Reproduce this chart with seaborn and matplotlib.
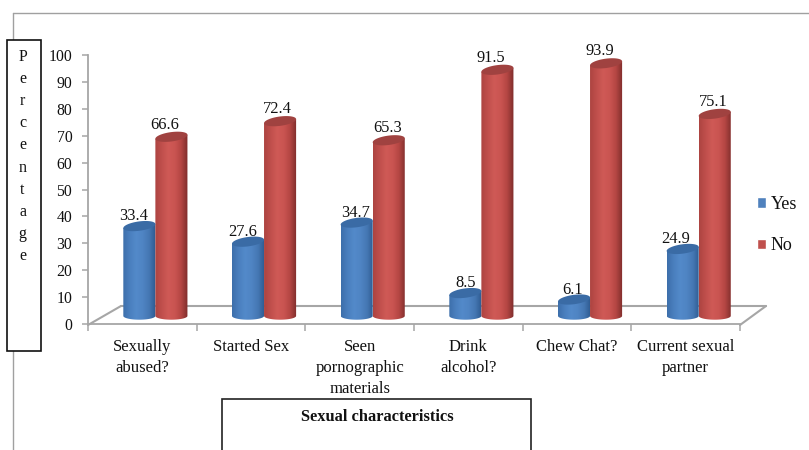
import numpy as np
import pandas as pd
import matplotlib
matplotlib.use("Agg")
import matplotlib.pyplot as plt
from matplotlib.colors import LinearSegmentedColormap
from matplotlib.patches import Polygon, Rectangle
from matplotlib.lines import Line2D
import seaborn as sns

categories = ["Sexually\nabused?", "Started Sex", "Seen\npornographic\nmaterials",
              "Drink\nalcohol?", "Chew Chat?", "Current sexual\npartner"]
yes_values = [33.4, 27.6, 34.7, 8.5, 6.1, 24.9]
no_values = [66.6, 72.4, 65.3, 91.5, 93.9, 75.1]
y_ticks = list(range(0, 101, 10))
series_names = ["Yes", "No"]
ylabel_letters = list("Percentage")
xlabel_text = "Sexual characteristics"

W, H = 809, 450
sns.set_theme(style="white")
plt.rcParams["font.family"] = ["Liberation Serif", "DejaVu Serif"]
plt.rcParams["text.color"] = "#111111"

fig = plt.figure(figsize=(W / 100, H / 100), dpi=100)
L, R, T, B = 88, 740, 55, 324
ax = fig.add_axes([L / W, 1 - B / H, (R - L) / W, (B - T) / H])

df = pd.DataFrame({
    "cat": categories * 2,
    "val": yes_values + no_values,
    "ser": [series_names[0]] * 6 + [series_names[1]] * 6,
})
palette = {"Yes": "#4f81bd", "No": "#c0504d"}
sns.barplot(data=df, x="cat", y="val", hue="ser", palette=palette, width=0.59,
            saturation=1, ax=ax, legend=True, zorder=2)

SHIFT = 0.12
ax.set_xlim(-0.5 - SHIFT, 5.5 - SHIFT)
ax.set_ylim(0, 100)
px_x = (R - L) / 6
px_y = (B - T) / 100
BASE = 3.0  # 3-D floor offset of the cylinder base centre

grads = {
    "Yes": ["#3d6fab", "#4a7fbe", "#538aca", "#4f84c3", "#4577b3", "#2d5a90"],
    "No": ["#ad4441", "#c04f4c", "#cf5a56", "#ca5451", "#b44643", "#7e2d2b"],
}
tops = {"Yes": "#3a6ba5", "No": "#a04240"}
for cont, name in zip(ax.containers, series_names):
    cmap = LinearSegmentedColormap.from_list(name, grads[name])
    for p in cont:
        x0, w, h = p.get_x(), p.get_width(), p.get_height()
        p.set_y(BASE)
        p.set_visible(False)
        xc, a = x0 + w / 2, w / 2
        yt = BASE + h
        ry = 4.7 / px_y
        tilt = 2.0 / px_y
        t = np.linspace(0, 2 * np.pi, 80)
        tb = np.linspace(np.pi, 2 * np.pi, 40)
        tt = np.linspace(0, np.pi, 40)
        bx = xc + a * np.cos(tb)
        by = BASE + 0.8 * ry * np.sin(tb)
        ux = xc + a * np.cos(tt)
        uy = yt + tilt * np.cos(tt)
        poly = Polygon(np.c_[np.r_[bx, ux], np.r_[by, uy]], closed=True,
                       transform=ax.transData, fc="none", ec="none")
        ax.add_patch(poly)
        im = ax.imshow(np.linspace(0, 1, 64).reshape(1, -1), cmap=cmap, aspect="auto",
                       extent=[x0, x0 + w, BASE - ry, yt + ry + tilt], zorder=3,
                       interpolation="bilinear")
        im.set_clip_path(poly)
        ex = xc + a * np.cos(t)
        ey = yt + ry * np.sin(t) + tilt * np.cos(t)
        ax.add_patch(Polygon(np.c_[ex, ey], closed=True, fc=tops[name], ec="none", zorder=4))
ax.set_xlim(-0.5 - SHIFT, 5.5 - SHIFT)
ax.set_ylim(0, 100)

# value labels
nudges = [-5.5, -7, -5, -3, -1, -1, 0, -7, -1, -6, -7, -1]
for cont, name, vals, nd, dy in zip(ax.containers, series_names, (yes_values, no_values),
                                    (nudges[0::2], nudges[1::2]), (1.4, 3)):
    for p, v, n in zip(cont, vals, nd):
        ax.annotate(f"{v:.1f}", (p.get_x() + p.get_width() / 2, BASE + v), xytext=(n * 0.72, dy),
                    textcoords="offset points", ha="center", va="bottom",
                    fontsize=11.8, color="#111111", zorder=6, annotation_clip=False)

# axes
for s in ["top", "right"]:
    ax.spines[s].set_visible(False)
for s in ["left", "bottom"]:
    ax.spines[s].set_color("#a6a6a6")
    ax.spines[s].set_linewidth(1.3)
ax.set_yticks(y_ticks)
ax.set_yticklabels([str(v) for v in y_ticks], fontsize=11.3)
ax.tick_params(axis="y", length=4.3, width=1.1, color="#a6a6a6", left=True, pad=7, labelcolor="#111111")
edges = np.arange(7) - 0.5 - SHIFT
ax.set_xticks(edges)
ax.set_xticklabels([""] * 7)
ax.tick_params(axis="x", length=5, width=1.1, color="#a6a6a6", bottom=True)
ax.set_xlabel("")
ax.set_ylabel("")
ax.patch.set_alpha(0)
for i, c in enumerate(categories):
    ax.annotate(c, (i - SHIFT, 0), xytext=(0, -10.5), textcoords="offset points", ha="center", va="top",
                fontsize=12, linespacing=1.42, color="#111111", annotation_clip=False)

# 3-D floor, in figure pixels
def fx(x): return x / W
def fy(y): return 1 - y / H
floor = [(88, 325), (121, 306), (766, 306), (740, 325)]
for (x0, y0), (x1, y1) in zip(floor[:-1], floor[1:]):
    fig.add_artist(Line2D([fx(x0), fx(x1)], [fy(y0), fy(y1)], color="#a6a6a6", lw=1.5, zorder=0))

# legend
h, l = ax.get_legend_handles_labels()
ax.legend_.remove()
fig.legend(h, l, loc="upper left", bbox_to_anchor=(fx(757), fy(196)), frameon=False, fontsize=13,
           handlelength=0.5, handleheight=0.5, handletextpad=0.25, labelspacing=1.35,
           borderpad=0, borderaxespad=0)

# frames and page lines
fig.add_artist(Line2D([fx(13), fx(13)], [0, fy(12.5)], color="#a0a0a0", lw=1.0, zorder=0))
fig.add_artist(Line2D([fx(13), 1], [fy(12.5), fy(12.5)], color="#a0a0a0", lw=1.0, zorder=0))
fig.add_artist(Rectangle((fx(6.5), fy(350.5)), 34 / W, 311 / H, transform=fig.transFigure,
                         fc="white", ec="#111111", lw=1.2, zorder=1))
for i, ch in enumerate(ylabel_letters):
    fig.text(fx(22.5), fy(57 + i * 22.1), ch, ha="center", va="center", fontsize=11.5, color="#111111")
fig.add_artist(Rectangle((fx(222), fy(460)), 309 / W, 61 / H, transform=fig.transFigure,
                         fc="white", ec="#222222", lw=1.2, zorder=1))
fig.text(fx(377), fy(417), xlabel_text, ha="center", va="center", fontsize=11.8, fontweight="bold",
         color="#111111", zorder=3)

fig.savefig("out.png", dpi=100, facecolor="white")
